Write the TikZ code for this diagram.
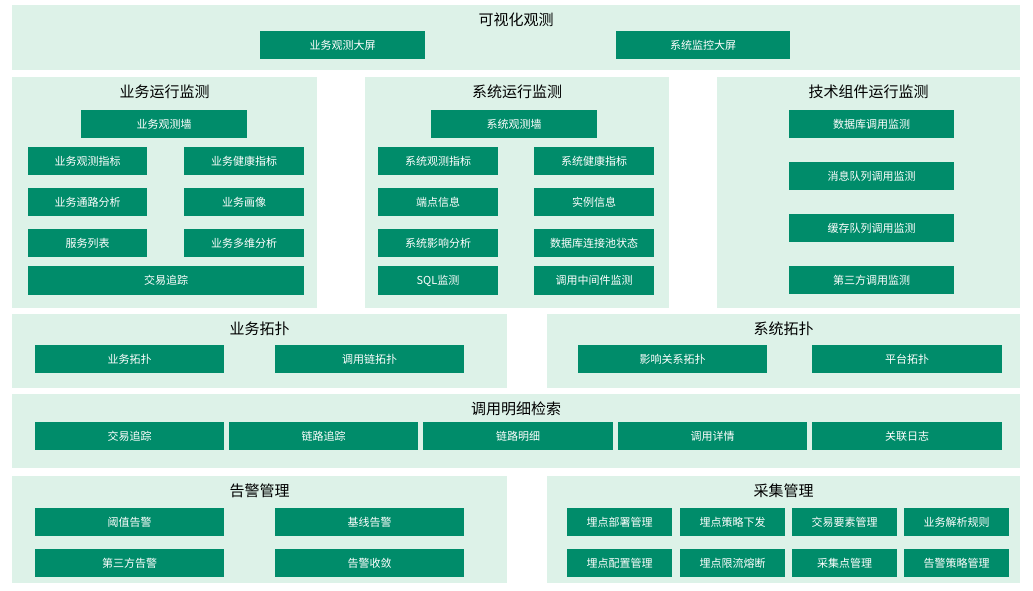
\documentclass[tikz,border=0pt]{standalone}
\usepackage{fontspec}
\setmainfont{Noto Sans CJK SC}
\definecolor{pnl}{HTML}{DDF2E8}
\definecolor{bxc}{HTML}{008C6A}
\begin{document}
\begin{tikzpicture}[x=1pt,y=-1pt,
  panel/.style={fill=pnl,draw=none},
  ttl/.style={font=\fontsize{15}{17}\selectfont,text=black},
  bx/.style={fill=bxc,draw=none,text=white,font=\fontsize{11}{13}\selectfont}]
\newcommand\pn[5]{\fill[panel] (#1,#2) rectangle (#3,#4); \node[ttl] (t#5) at ({(#1+#3)/2},#2+15) {#5};}
\newcommand\bb[6]{\node[bx,minimum width=#3pt-#1pt,minimum height=#4pt-#2pt,inner sep=0pt] (#6) at ({(#1+#3)/2},{(#2+#4)/2}) {#5};}
\useasboundingbox (0,0) rectangle (1033,590);
\pn{12}{5}{1020}{70}{可视化观测}
\bb{260}{31}{425}{59}{业务观测大屏}{a1}
\bb{616}{31}{790}{59}{系统监控大屏}{a2}
\pn{12}{77}{317}{308}{业务运行监测}
\bb{81}{110}{247}{138}{业务观测墙}{b0}
\bb{28}{147}{147}{175}{业务观测指标}{b1}
\bb{184}{147}{304}{175}{业务健康指标}{b2}
\bb{28}{188}{147}{216}{业务通路分析}{b3}
\bb{184}{188}{304}{216}{业务画像}{b4}
\bb{28}{229}{147}{257}{服务列表}{b5}
\bb{184}{229}{304}{257}{业务多维分析}{b6}
\bb{28}{266}{304}{295}{交易追踪}{b7}
\pn{365}{77}{669}{308}{系统运行监测}
\bb{431}{110}{597}{138}{系统观测墙}{c0}
\bb{378}{147}{498}{175}{系统观测指标}{c1}
\bb{534}{147}{654}{175}{系统健康指标}{c2}
\bb{378}{188}{498}{216}{端点信息}{c3}
\bb{534}{188}{654}{216}{实例信息}{c4}
\bb{378}{229}{498}{257}{系统影响分析}{c5}
\bb{534}{229}{654}{257}{数据库连接池状态}{c6}
\bb{378}{266}{498}{295}{SQL监测}{c7}
\bb{534}{266}{654}{295}{调用中间件监测}{c8}
\pn{717}{77}{1020}{308}{技术组件运行监测}
\bb{789}{110}{954}{138}{数据库调用监测}{d1}
\bb{789}{162}{954}{190}{消息队列调用监测}{d2}
\bb{789}{214}{954}{242}{缓存队列调用监测}{d3}
\bb{789}{266}{954}{294}{第三方调用监测}{d4}
\pn{12}{314}{507}{388}{业务拓扑}
\bb{35}{345}{224}{373}{业务拓扑}{e1}
\bb{275}{345}{464}{373}{调用链拓扑}{e2}
\pn{547}{314}{1020}{388}{系统拓扑}
\bb{578}{345}{767}{373}{影响关系拓扑}{f1}
\bb{812}{345}{1002}{373}{平台拓扑}{f2}
\pn{12}{394}{1020}{468}{调用明细检索}
\bb{35}{422}{224}{450}{交易追踪}{g1}
\bb{229}{422}{418}{450}{链路追踪}{g2}
\bb{423}{422}{613}{450}{链路明细}{g3}
\bb{618}{422}{807}{450}{调用详情}{g4}
\bb{812}{422}{1002}{450}{关联日志}{g5}
\pn{12}{476}{507}{583}{告警管理}
\bb{35}{508}{224}{536}{阈值告警}{h1}
\bb{275}{508}{464}{536}{基线告警}{h2}
\bb{35}{549}{224}{577}{第三方告警}{h3}
\bb{275}{549}{464}{577}{告警收敛}{h4}
\pn{547}{476}{1020}{583}{采集管理}
\bb{567}{508}{672}{536}{埋点部署管理}{i1}
\bb{680}{508}{785}{536}{埋点策略下发}{i2}
\bb{792}{508}{897}{536}{交易要素管理}{i3}
\bb{904}{508}{1009}{536}{业务解析规则}{i4}
\bb{567}{549}{672}{577}{埋点配置管理}{i5}
\bb{680}{549}{785}{577}{埋点限流熔断}{i6}
\bb{792}{549}{897}{577}{采集点管理}{i7}
\bb{904}{549}{1009}{577}{告警策略管理}{i8}
\end{tikzpicture}
\end{document}
